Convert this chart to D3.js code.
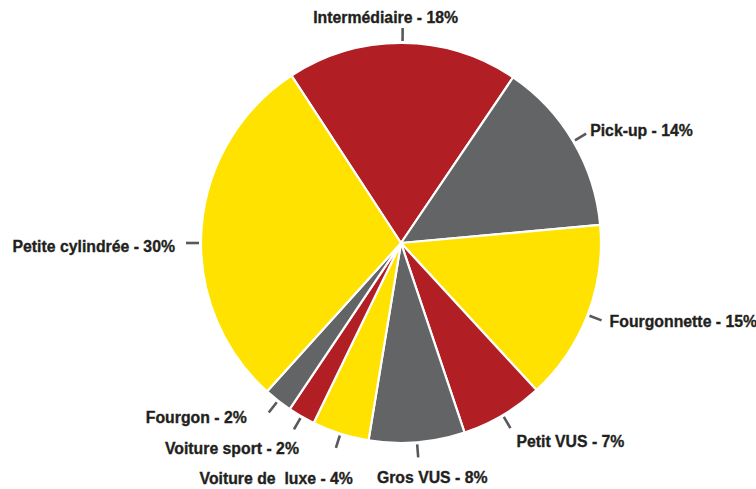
<!DOCTYPE html>
<html>
<head>
<meta charset="utf-8">
<script src="https://cdn.jsdelivr.net/npm/d3@7"></script>
<style>
  body { margin: 0; background: #fff; }
  text { font-family: "Liberation Sans", Arial, "Helvetica", sans-serif; font-weight: bold; }
</style>
</head>
<body>
<svg id="torta" width="756" height="489"></svg>
<script>
// categorie nell'ordine del grafico (in senso orario, partendo da Intermédiaire)
var categories = ['Intermédiaire', 'Pick-up', 'Fourgonnette', 'Petit VUS', 'Gros VUS',
  'Voiture de  luxe', 'Voiture sport', 'Fourgon', 'Petite cylindrée'];
var shares = [18.7, 14.1, 14.6, 6.7, 7.75, 4.6, 2.2, 2.3, 29.1];
// percentuali scritte nelle etichette
var pctLabels = [18, 14, 15, 7, 8, 4, 2, 2, 30];
var sliceColors = ['#b11f24', '#636466', '#ffe200', '#b11f24', '#636466',
  '#ffe200', '#b11f24', '#636466', '#ffe200'];

var width = 756, height = 489;
var cx = 401, cy = 243, radius = 200;
var startDeg = -33.2;
var larghezzaRif = 145; // larghezza di "Intermédiaire - 18%" nel grafico (carattere condensato)

// spostamenti delle etichette rispetto alla fine della linea guida
// a = angolo forzato della linea (gradi), anchor = allineamento testo
var labelLayout = [
  { dx: -17, dy: -5, anchor: 'middle' },
  { dx: 4, dy: 2, anchor: 'start' },
  { dx: 8, dy: 7, anchor: 'start' },
  { dx: 6, dy: 19, anchor: 'start' },
  { dx: 14, dy: 26, anchor: 'middle' },
  { dx: 17, dy: 36, anchor: 'end' },
  { dx: 5, dy: 25, anchor: 'end' },
  { dx: -22, dy: 10, anchor: 'end' },
  { dx: -11, dy: 9, anchor: 'end', a: 270 }
];

var dati = categories.map(function (c, i) {
  return { nome: c, valore: shares[i], pct: pctLabels[i], colore: sliceColors[i], lay: labelLayout[i] };
});

var svg = d3.select('#torta');
var g = svg.append('g').attr('transform', 'translate(' + cx + ',' + cy + ')');

var start = startDeg * Math.PI / 180;
var pie = d3.pie().sort(null).value(function (d) { return d.valore; })
  .startAngle(start).endAngle(start + 2 * Math.PI);
var arc = d3.arc().innerRadius(0).outerRadius(radius);
var fette = pie(dati);

creaFette(fette);
creaEtichette(fette);

function creaFette(fette) {
  g.selectAll('path.fetta').data(fette).enter().append('path')
    .attr('class', 'fetta')
    .attr('d', arc)
    .attr('fill', function (d) { return d.data.colore; })
    .attr('stroke', '#fff')
    .attr('stroke-width', 2.2)
    .attr('stroke-linejoin', 'round');
}

function creaEtichette(fette) {
  var r0 = radius + 2, r1 = radius + 15;
  // misuro la prima etichetta per stringere il testo come un carattere condensato
  var prova = svg.append('text').attr('font-size', 17)
    .text(fette[0].data.nome + ' - ' + fette[0].data.pct + '%');
  var sx = larghezzaRif / prova.node().getComputedTextLength();
  prova.remove();

  fette.forEach(function (d) {
    var lay = d.data.lay;
    // angolo della linea guida: metà della fetta, salvo correzioni
    var a = lay.a !== undefined ? lay.a * Math.PI / 180 : (d.startAngle + d.endAngle) / 2;
    var sxa = Math.sin(a), sya = -Math.cos(a);
    var x1 = r1 * sxa, y1 = r1 * sya;
    g.append('line')
      .attr('x1', r0 * sxa).attr('y1', r0 * sya)
      .attr('x2', x1).attr('y2', y1)
      .attr('stroke', '#58595b')
      .attr('stroke-width', 2.6);
    g.append('g')
      .attr('transform', 'translate(' + (x1 + lay.dx) + ',' + (y1 + lay.dy) + ') scale(' + sx + ',1)')
      .append('text')
      .attr('text-anchor', lay.anchor)
      .attr('fill', '#231f20')
      .attr('stroke', '#231f20')
      .attr('stroke-width', 0.35)
      .attr('font-size', 17)
      .attr('xml:space', 'preserve')
      .style('white-space', 'pre')
      .text(d.data.nome + ' - ' + d.data.pct + '%');
  });
}
</script>
</body>
</html>
